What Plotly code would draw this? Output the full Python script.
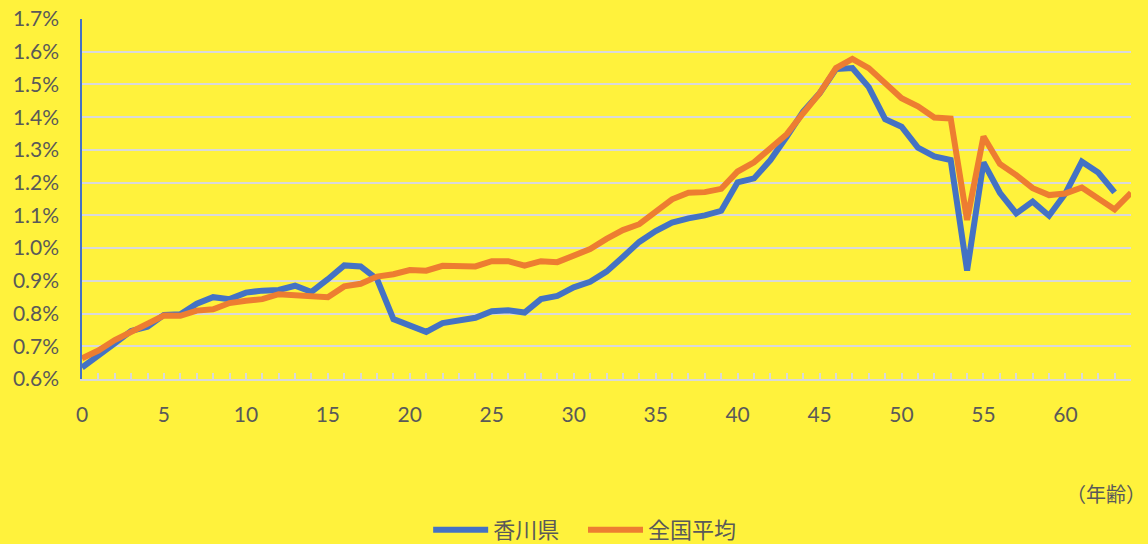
import plotly.graph_objects as go

ages = list(range(0, 65))

kagawa = [0.635, 0.670, 0.709, 0.747, 0.760, 0.796, 0.798, 0.830, 0.850, 0.844,
          0.864, 0.870, 0.872, 0.885, 0.866, 0.905, 0.947, 0.944, 0.905, 0.783,
          0.762, 0.744, 0.771, 0.778, 0.787, 0.807, 0.810, 0.803, 0.844, 0.854,
          0.880, 0.897, 0.928, 0.973, 1.019, 1.052, 1.078, 1.091, 1.100, 1.114,
          1.201, 1.213, 1.269, 1.341, 1.417, 1.473, 1.547, 1.550, 1.492, 1.394,
          1.371, 1.307, 1.280, 1.269, 0.931, 1.262, 1.169, 1.106, 1.142, 1.099,
          1.167, 1.264, 1.231, 1.170, None]

national = [0.663, 0.687, 0.719, 0.744, 0.772, 0.794, 0.793, 0.809, 0.813, 0.832,
            0.839, 0.844, 0.859, 0.855, 0.850, 0.850, 0.883, 0.891, 0.913, 0.920,
            0.933, 0.931, 0.946, 0.946, 0.944, 0.960, 0.960, 0.946, 0.960, 0.957,
            0.978, 0.997, 1.028, 1.055, 1.073, 1.111, 1.149, 1.169, 1.171, 1.181,
            1.234, 1.262, 1.305, 1.348, 1.412, 1.473, 1.550, 1.578, 1.550, 1.504,
            1.458, 1.433, 1.399, 1.396, 1.086, 1.341, 1.257, 1.223, 1.183, 1.162,
            1.167, 1.185, 1.150, 1.118, 1.169]

series_names = ["香川県", "全国平均"]
x_tick_vals = list(range(0, 61, 5))
y_tick_vals = [0.6, 0.7, 0.8, 0.9, 1.0, 1.1, 1.2, 1.3, 1.4, 1.5, 1.6, 1.7]

BG = "#FFF23C"
TXT = "#595959"
GRID = "#D9D9D9"
FONT = "Lato, 'Noto Sans CJK JP', sans-serif"
CJK = "'Noto Sans CJK JP', sans-serif"

fig = go.Figure()
fig.add_trace(go.Scatter(x=ages, y=kagawa, mode="lines", name=series_names[0],
                         line=dict(color="#4472C4", width=6), connectgaps=False,
                         legend="legend"))
fig.add_trace(go.Scatter(x=ages, y=national, mode="lines", name=series_names[1],
                         line=dict(color="#ED7D31", width=6), legend="legend2"))

legend_common = dict(orientation="h", xanchor="left", y=-0.419, yanchor="middle",
                     font=dict(family=CJK, size=22, color=TXT),
                     bgcolor="rgba(0,0,0,0)", itemwidth=55)

fig.update_layout(
    width=1148, height=544,
    paper_bgcolor=BG, plot_bgcolor=BG,
    margin=dict(l=82, r=17, t=19, b=165, autoexpand=False),
    font=dict(family=FONT, color=TXT, size=21),
    showlegend=True,
    legend=dict(x=0.33, **legend_common),
    legend2=dict(x=0.4776, **legend_common),
    xaxis=dict(range=[0, 64], tickmode="array", tickvals=x_tick_vals,
               ticktext=[str(v) for v in x_tick_vals],
               showgrid=False, zeroline=False,
               showline=True, linecolor=GRID, linewidth=1.5,
               ticks="inside", ticklen=6, tickcolor=GRID, tickwidth=1.5,
               minor=dict(dtick=1, ticks="inside", ticklen=6, tickcolor=GRID, tickwidth=1.5,
                          showgrid=False),
               ticklabelstandoff=16,
               tickfont=dict(family=FONT, size=21, color=TXT)),
    yaxis=dict(range=[0.6, 1.7], tickmode="array", tickvals=y_tick_vals,
               ticktext=[f"{v:.1f}%" for v in y_tick_vals],
               showgrid=True, gridcolor=GRID, gridwidth=1.5,
               zeroline=False, showline=True, linecolor="#4472C4", linewidth=1.5,
               ticks="", ticklabelstandoff=17,
               tickfont=dict(family=FONT, size=21, color=TXT)),
)

fig.add_annotation(text="（年齢）", xref="paper", yref="paper", x=1.0160, y=-0.3167,
                   xanchor="right", yanchor="middle", showarrow=False,
                   font=dict(family=CJK, size=20, color=TXT))

fig.write_html("out.html", config={"displayModeBar": False},
               post_script="document.body.style.margin='0';document.body.style.overflow='hidden';")
